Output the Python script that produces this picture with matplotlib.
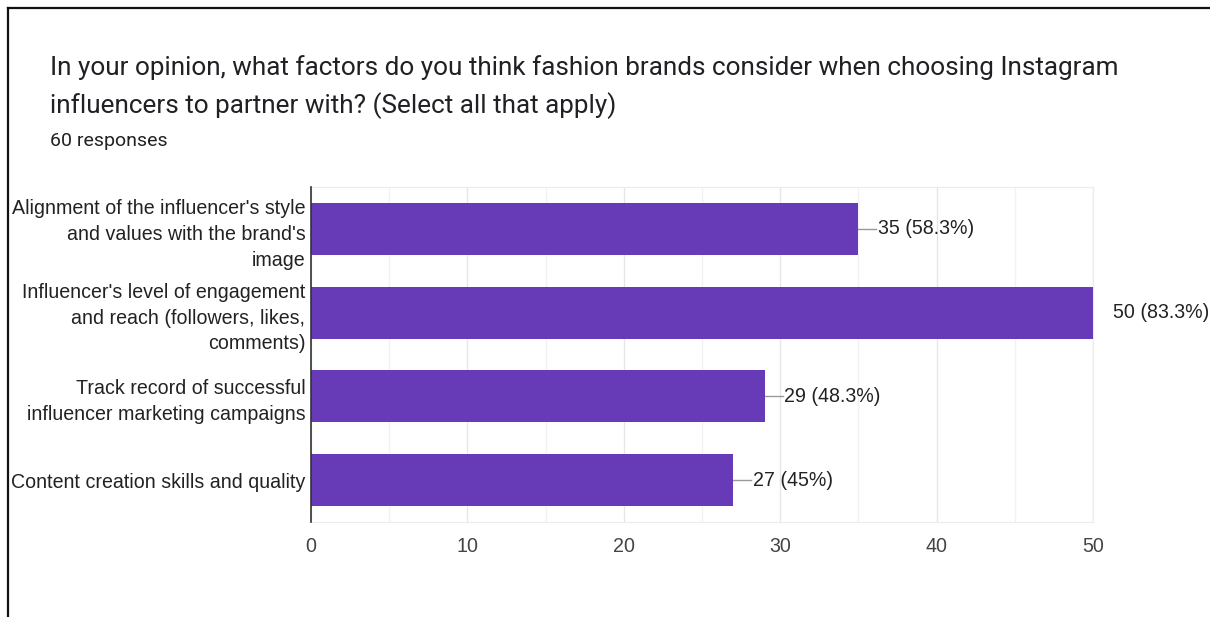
import matplotlib.pyplot as plt
from matplotlib.lines import Line2D
from matplotlib.ticker import MultipleLocator

# survey answers, top to bottom
categories = [
    "Alignment of the influencer's style\nand values with the brand's\nimage",
    "Influencer's level of engagement\nand reach (followers, likes,\ncomments)",
    "Track record of successful\ninfluencer marketing campaigns",
    "Content creation skills and quality",
]
counts = [35, 50, 29, 27]
percents = ["58.3%", "83.3%", "48.3%", "45%"]
x_ticks = [0, 10, 20, 30, 40, 50]

title = ("In your opinion, what factors do you think fashion brands consider when choosing Instagram\n"
         "influencers to partner with? (Select all that apply)")
subtitle = "60 responses"

W, H = 1210, 617
BAR = "#673ab7"
FS = 14.1

fig = plt.figure(figsize=(W / 100, H / 100), dpi=100)
fig.patch.set_facecolor("white")

def fx(px):
    return px / W

def fy(py):
    return 1 - py / H

# card border (top and left edges visible)
fig.add_artist(Line2D([fx(8), fx(W)], [fy(8), fy(8)], color="#111111", lw=1.6, transform=fig.transFigure))
fig.add_artist(Line2D([fx(8), fx(8)], [fy(8), fy(H)], color="#111111", lw=1.6, transform=fig.transFigure))

fig.text(fx(50), fy(68), title.split("\n")[0], family="Roboto", fontsize=18.8, color="#202124", va="center")
fig.text(fx(50), fy(106), title.split("\n")[1], family="Roboto", fontsize=18.8, color="#202124", va="center")
fig.text(fx(50), fy(141), subtitle, family="Roboto", fontsize=14, color="#202124", va="center")

ax = fig.add_axes([fx(311), fy(522), fx(1093) - fx(311), fy(187) - fy(522)])
y = list(range(len(categories)))
ax.barh(y, counts, height=0.62, color=BAR, zorder=3)
ax.set_ylim(len(categories) - 0.5, -0.5)
ax.set_xlim(0, 50)

ax.xaxis.set_major_locator(MultipleLocator(10))
ax.xaxis.set_minor_locator(MultipleLocator(5))
ax.set_xticks(x_ticks)
ax.set_xticklabels([str(t) for t in x_ticks], family="Liberation Sans", fontsize=FS, color="#444444")
ax.tick_params(axis="x", which="both", length=0, pad=11)
ax.grid(axis="x", which="major", color="#e6e6e6", lw=1, zorder=0)
ax.grid(axis="x", which="minor", color="#f2f2f2", lw=1, zorder=0)

ax.set_yticks(y)
ax.set_yticklabels(categories, family="Liberation Sans", fontsize=FS, color="#222222", linespacing=1.45)
ax.tick_params(axis="y", length=0, pad=4)

for side in ["top", "right", "bottom"]:
    ax.spines[side].set_color("#ececec")
ax.spines["left"].set_color("#333333")
ax.spines["left"].set_linewidth(1.2)
ax.spines["left"].set_zorder(4)

# value labels with short leader lines
for yi, c, p in zip(y, counts, percents):
    ax.plot([c, c + 1.15], [yi, yi], color="#999999", lw=1, zorder=2, clip_on=True)
    ax.text(c + 1.25, yi, f"{c} ({p})", family="Liberation Sans", fontsize=FS,
            color="#222222", va="center", ha="left", clip_on=False)

fig.savefig("out.png", dpi=100, facecolor="white")
